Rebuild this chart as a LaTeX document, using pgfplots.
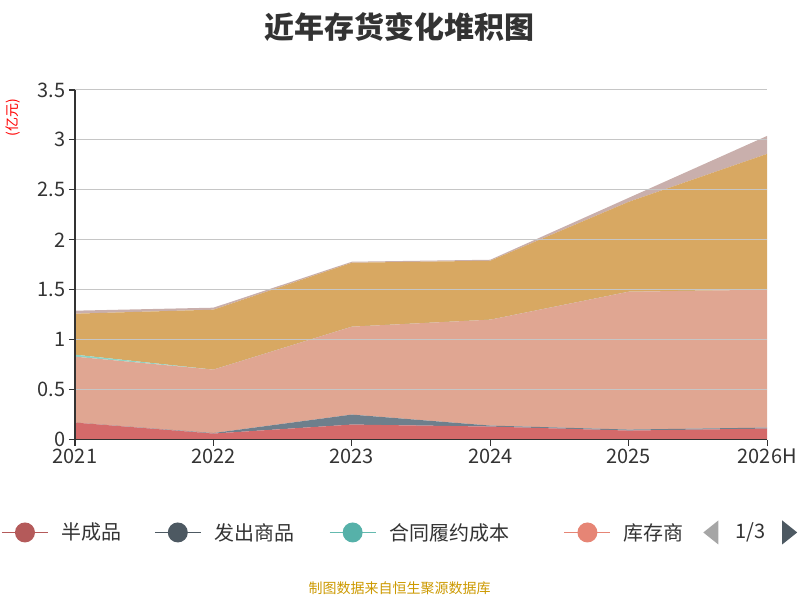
\documentclass[border=0pt]{standalone}
\usepackage{pgfplots}
\pgfplotsset{compat=1.18}
\usepackage{fontspec}
\setmainfont{Noto Sans CJK SC}
\definecolor{c1}{HTML}{D46A6A}
\definecolor{c2}{HTML}{6E7F8C}
\definecolor{c3}{HTML}{8FD3C4}
\definecolor{c4}{HTML}{E0A692}
\definecolor{c5}{HTML}{D8A862}
\definecolor{c6}{HTML}{C9AFAC}
\begin{document}
\begin{tikzpicture}[x=1pt,y=1pt]
\path (0pt,0pt) rectangle (800pt,600pt);
\begin{axis}[at={(75pt,160pt)},anchor=south west,scale only axis,width=693pt,height=350pt,
 xmin=0,xmax=5,ymin=0,ymax=3.5,xtick={0,...,5},xticklabels={2021,2022,2023,2024,2025,2026H},
 ytick={0,0.5,...,3.5},yticklabels={0,0.5,1,1.5,2,2.5,3,3.5},
 axis x line*=bottom,axis y line*=left,axis line style={draw=black!80,line width=1.2pt,-},
 tick style={draw=black!80,line width=1.2pt},tick align=outside,major tick length=6pt,
 ymajorgrids,grid style={gray!45,line width=1pt},
 tick label style={font=\fontsize{20}{22}\selectfont,text=black!80},
 /pgf/number format/assume math mode=true,
 stack plots=y,area style,every axis plot/.append style={draw=none}]
\addplot[fill=c1] coordinates {(0,0.17)(1,0.06)(2,0.15)(3,0.13)(4,0.09)(5,0.11)} \closedcycle;
\addplot[fill=c2] coordinates {(0,0)(1,0.005)(2,0.10)(3,0.01)(4,0.01)(5,0.01)} \closedcycle;
\addplot[fill=c4] coordinates {(0,0.66)(1,0.635)(2,0.88)(3,1.06)(4,1.38)(5,1.38)} \closedcycle;
\addplot[fill=c3] coordinates {(0,0.02)(1,0)(2,0)(3,0)(4,0)(5,0)} \closedcycle;
\addplot[fill=c5] coordinates {(0,0.41)(1,0.60)(2,0.64)(3,0.59)(4,0.90)(5,1.36)} \closedcycle;
\addplot[fill=c6] coordinates {(0,0.03)(1,0.02)(2,0.01)(3,0.01)(4,0.04)(5,0.18)} \closedcycle;
\end{axis}
\node[font=\bfseries\fontsize{30}{32}\selectfont,text=black!80] at (400pt,573pt) {近年存货变化堆积图};
\node[rotate=90,font=\fontsize{14}{15}\selectfont,text=red] at (13pt,482pt) {(亿元)};
\begin{scope}
\clip (0pt,40pt) rectangle (683pt,95pt);
\draw[c1!85!black,line width=1.2pt] (2pt,67pt)--(48pt,67pt); \fill[c1!85!black] (25pt,67pt) circle (10pt);
\node[anchor=west,font=\fontsize{20}{22}\selectfont,text=black!80] at (58pt,67pt) {半成品};
\draw[c2!70!black,line width=1.2pt] (155pt,67pt)--(201pt,67pt); \fill[c2!70!black] (178pt,67pt) circle (10pt);
\node[anchor=west,font=\fontsize{20}{22}\selectfont,text=black!80] at (211pt,67pt) {发出商品};
\draw[c3!70!teal,line width=1.2pt] (330pt,67pt)--(376pt,67pt); \fill[c3!60!teal] (353pt,67pt) circle (10pt);
\node[anchor=west,font=\fontsize{20}{22}\selectfont,text=black!80] at (386pt,67pt) {合同履约成本};
\draw[c4!80!red,line width=1.2pt] (565pt,67pt)--(611pt,67pt); \fill[c4!80!red] (588pt,67pt) circle (10pt);
\node[anchor=west,font=\fontsize{20}{22}\selectfont,text=black!80] at (621pt,67pt) {库存商品};
\end{scope}
\fill[gray!70] (704pt,67pt)--(719pt,79pt)--(719pt,55pt)--cycle;
\node[font=\fontsize{20}{22}\selectfont,text=black!80] at (751pt,67pt) {1/3};
\fill[c2!70!black] (798pt,67pt)--(783pt,79pt)--(783pt,55pt)--cycle;
\node[font=\fontsize{14}{15}\selectfont,text={rgb,255:red,204;green,153;blue,0}] at (400pt,11pt) {制图数据来自恒生聚源数据库};
\end{tikzpicture}
\end{document}
